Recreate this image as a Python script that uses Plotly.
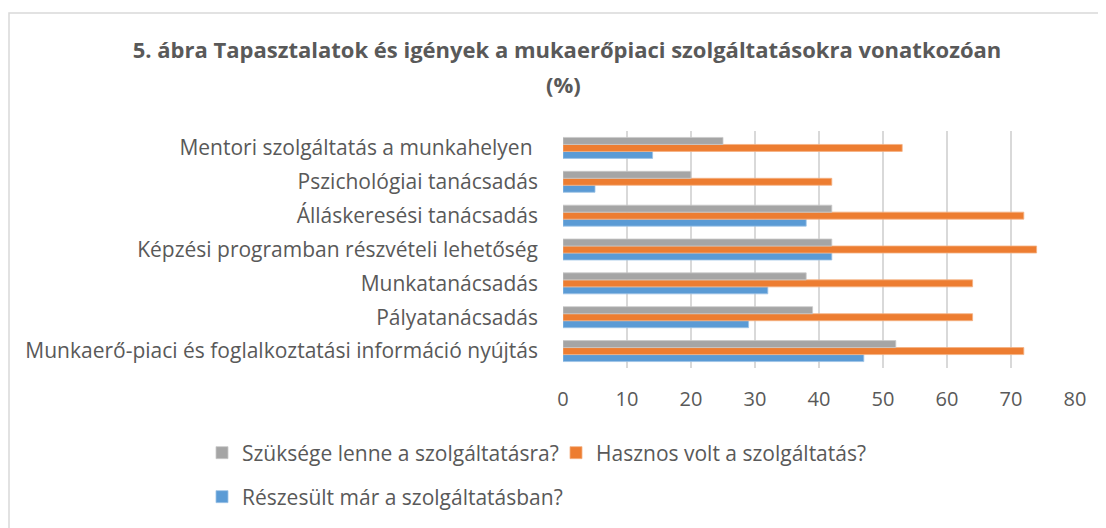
import plotly.graph_objects as go

categories = [
    "Munkaerő-piaci és foglalkoztatási információ nyújtás",
    "Pályatanácsadás",
    "Munkatanácsadás",
    "Képzési programban részvételi lehetőség",
    "Álláskeresési tanácsadás",
    "Pszichológiai tanácsadás",
    "Mentori szolgáltatás a munkahelyen ",
]
reszesult = [47, 29, 32, 42, 38, 5, 14]
hasznos = [72, 64, 64, 74, 72, 42, 53]
szukseges = [52, 39, 38, 42, 42, 20, 25]
x_ticks = [0, 10, 20, 30, 40, 50, 60, 70, 80]

series_names = ["Részesült már a szolgáltatásban?", "Hasznos volt a szolgáltatás?", "Szüksége lenne a szolgáltatásra?"]
colors = ["#5B9BD5", "#ED7D31", "#A5A5A5"]
line_colors = ["#9DC3E6", "#F4B183", "#C9C9C9"]

FONT = "Open Sans"
TXT = "#595959"

W, H = 1106, 528
OFF = 8  # page body margin
ml = 563 - OFF
mr = W - (1075 - OFF)
mt = 131 - OFF
mb = H - (368 - OFF)
pw = W - ml - mr
ph = H - mt - mb


def px_to_paper_x(page_px):
    return (page_px - OFF - ml) / pw


def px_to_paper_y(page_py):
    return (H - mb - (page_py - OFF)) / ph


fig = go.Figure()
legends = ["legend3", "legend2", "legend"]
for vals, name, c, lc, lg in zip([reszesult, hasznos, szukseges], series_names, colors, line_colors, legends):
    fig.add_trace(go.Bar(
        y=categories, x=vals, name=name, orientation="h",
        marker=dict(color=c, line=dict(color=lc, width=0.8)),
        legend=lg,
    ))

leg_common = dict(orientation="h", bgcolor="rgba(0,0,0,0)", font=dict(family=FONT, size=21, color=TXT),
                  xanchor="left", yanchor="middle", itemwidth=30, borderwidth=0)

fig.update_layout(
    width=W, height=H,
    margin=dict(l=ml, r=mr, t=mt, b=mb),
    paper_bgcolor="white", plot_bgcolor="white",
    barmode="group", bargap=0.38, bargroupgap=0,
    font=dict(family=FONT, color=TXT),
    title=dict(text="<b>5. ábra Tapasztalatok és igények a mukaerőpiaci szolgáltatásokra vonatkozóan</b>",
               x=(567 - OFF) / W, xanchor="center", y=1 - (50 - OFF) / H, yanchor="middle",
               font=dict(family=FONT, size=22, color=TXT)),
    xaxis=dict(range=[0, 80], tickvals=x_ticks, showgrid=True, gridcolor="#D9D9D9", gridwidth=1.5,
               zeroline=False, showline=False, ticks="", tickfont=dict(family=FONT, size=20, color=TXT),
               ticklabelstandoff=17),
    yaxis=dict(showgrid=False, showline=False, ticks="", tickfont=dict(family=FONT, size=21, color=TXT),
               ticklabelstandoff=24),
    showlegend=True,
    legend=dict(x=px_to_paper_x(202), y=px_to_paper_y(453), **leg_common),
    legend2=dict(x=px_to_paper_x(556), y=px_to_paper_y(453), **leg_common),
    legend3=dict(x=px_to_paper_x(202), y=px_to_paper_y(497), **leg_common),
)

fig.add_annotation(text="<b>(%)</b>", xref="paper", yref="paper", x=px_to_paper_x(563), y=px_to_paper_y(84),
                   xanchor="center", yanchor="middle", showarrow=False,
                   font=dict(family=FONT, size=22, color=TXT))

fig.add_shape(type="rect", xref="paper", yref="paper",
              x0=px_to_paper_x(9), x1=px_to_paper_x(1130), y0=px_to_paper_y(13), y1=px_to_paper_y(560),
              line=dict(color="#D9D9D9", width=1.5), fillcolor="rgba(0,0,0,0)", layer="below")

fig.write_html("out.html")
